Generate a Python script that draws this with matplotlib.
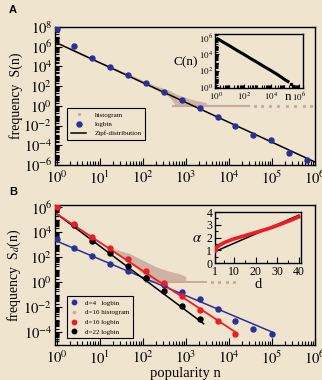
import numpy as np
import matplotlib
matplotlib.use("Agg")
import matplotlib.pyplot as plt
from matplotlib.ticker import LogLocator, FixedLocator, NullFormatter, FuncFormatter
from matplotlib.lines import Line2D

plt.rcParams['font.family'] = ['Liberation Serif', 'DejaVu Serif']
plt.rcParams['mathtext.fontset'] = 'stix'

BG = '#efe5cf'
BLUE = '#2b2f9a'
RED = '#ee1c24'
HIST = '#c9a99b'

# ---------------- Panel A data ----------------
a_logbin_n = [1, 2.6, 6.8, 17.8, 46, 120, 316, 800, 2100, 5500, 14000, 36000, 95000, 250000, 660000]
a_logbin_S = [6.7e7, 1.1e6, 7.2e4, 9.3e3, 1.4e3, 2.0e2, 2.8e1, 4.3, 0.6, 8.3e-2, 9.3e-3, 1.2e-3, 3.2e-4, 1.7e-5, 3.3e-6]
a_zipf_n = [1, 1e6]
a_zipf_S = [2.5e6, 2.0e-6]
# histogram band (upper / lower envelope) and the count=1 floor
a_hist_n = [2, 5, 10, 30, 100, 200, 400, 600, 900, 1500, 3000]
a_hist_hi = [1.0e6, 1.3e5, 3.2e4, 4.0e3, 4.0e2, 1.1e2, 40, 16, 8, 4, 2.2]
a_hist_lo = [5.0e5, 8.0e4, 2.0e4, 2.2e3, 1.9e2, 45, 9, 1, 1, 1, 1]
a_floor_n = [500, 30000]
a_floor_S = [1, 1]
a_sparse_n = [4e4, 6e4, 9e4, 1.4e5, 2.2e5, 3.5e5, 5.5e5, 8e5]
a_sparse_S = [1, 1, 1, 1, 1, 1, 1, 1]

# inset A: C(n)
c_n = [1, 3, 10, 30, 100, 300, 1e3, 3e3, 1e4, 3e4, 1e5, 2e5]
c_C = [1e6, 3.2e5, 1e5, 3.2e4, 1e4, 3.2e3, 1e3, 3.2e2, 1e2, 32, 8, 4]
c_sparse_n = [2.8e5, 3.8e5, 5.2e5]
c_sparse_C = [2.5, 1.6, 1.1]

# ---------------- Panel B data ----------------
b_n = [1, 2.6, 6.8, 17.8, 46, 120, 316, 800, 2100, 5500, 14000, 36000, 100000]
b_d4 = [2.8e3, 5.9e2, 1.3e2, 31, 8.1, 2.1, 0.62, 0.17, 4.7e-2, 7.4e-3, 8.5e-4, 1.9e-4, 7.4e-5]
b_d16 = [1.0e6, 4.7e4, 4.5e3, 5.2e2, 69, 8.5, 0.93, 8.5e-2, 6.2e-3, 8.5e-4, 7.4e-5]
b_d22 = [1.0e6, 3.9e4, 2.0e3, 2.1e2, 21, 2.3, 0.2, 1.3e-2, 1.1e-3]
b_line4_n = [1, 1e5];    b_line4_S = [2.0e3, 1.1e-4]
b_line16_n = [1, 14000]; b_line16_S = [3.0e5, 1.1e-4]
b_line22_n = [1, 2600];  b_line22_S = [3.0e5, 5.0e-4]
b_hist_n = [20, 50, 100, 200, 400, 700, 1000]
b_hist_hi = [5.0e2, 2.0e2, 60, 18, 8, 5, 3]
b_hist_lo = [3.0e2, 40, 5, 1, 1, 1, 1]
b_floor_n = [120, 3000]
b_floor_S = [1, 1]
b_sparse_n = [4e3, 6e3, 9e3, 1.3e4]
b_sparse_S = [1, 1, 1, 1]

# inset B: alpha vs d
al_d = [1, 2, 3, 4, 5, 6, 8, 10, 12, 14, 16, 18, 20, 22, 24, 26, 28, 30, 32, 34, 36, 38, 40]
al_v = [1.12, 1.25, 1.38, 1.48, 1.57, 1.65, 1.78, 1.9, 2.0, 2.1, 2.2, 2.3, 2.4, 2.5, 2.6, 2.7, 2.82, 2.95, 3.07, 3.2, 3.33, 3.48, 3.62]
al_d1 = [1]; al_v1 = [1.0]
al_fit_d = [1, 40]; al_fit_v = [0.9, 3.75]

fig = plt.figure(figsize=(3.22, 3.80), dpi=100)
fig.patch.set_facecolor(BG)

def logfmt(v, pos):
    e = int(round(np.log10(v)))
    return r'$10^{%d}$' % e

def style_log(ax, ymajor_exps, xmajor_exps, fs=10.5, majlen=5, minlen=3):
    ax.set_xscale('log'); ax.set_yscale('log')
    ax.set_facecolor('none')
    ax.xaxis.set_major_locator(FixedLocator([10.0**e for e in xmajor_exps]))
    ax.yaxis.set_major_locator(FixedLocator([10.0**e for e in ymajor_exps]))
    ax.xaxis.set_minor_locator(LogLocator(base=10, subs=np.arange(2, 10), numticks=50))
    ax.yaxis.set_minor_locator(LogLocator(base=10, subs=np.arange(1, 10), numticks=50))
    ax.xaxis.set_major_formatter(FuncFormatter(logfmt))
    ax.yaxis.set_major_formatter(FuncFormatter(logfmt))
    ax.xaxis.set_minor_formatter(NullFormatter())
    ax.yaxis.set_minor_formatter(NullFormatter())
    ax.tick_params(which='both', direction='in', top=False, right=False, labelsize=fs, width=0.8)
    ax.tick_params(which='major', length=majlen)
    ax.tick_params(which='minor', length=minlen)
    for s in ax.spines.values():
        s.set_linewidth(1.0)

# ---------------- Panel A ----------------
axA = fig.add_axes([55/322, 1-165/380, 260/322, 138/380])
style_log(axA, range(-6, 9, 2), range(0, 7))
axA.fill_between(a_hist_n, a_hist_lo, a_hist_hi, color=HIST, lw=0, alpha=0.85, zorder=1)
axA.plot(a_floor_n, a_floor_S, color=HIST, lw=1.6, zorder=1)
axA.plot(a_sparse_n, a_sparse_S, 's', color=HIST, ms=1.2, zorder=1)
axA.plot(a_zipf_n, a_zipf_S, color='black', lw=1.1, zorder=2)
axA.plot(a_logbin_n, a_logbin_S, 'o', color=BLUE, ms=3.6, zorder=3)
axA.set_xlim(0.92, 1e6)
axA.set_ylim(1e-6, 1e8)
axA.tick_params(axis='y', pad=2)
axA.set_ylabel('frequency  S(n)', fontsize=10)
axA.yaxis.set_label_coords(-0.125, 0.5)
fig.text(13/322, 1-10/380, 'A', fontsize=8, fontweight='bold', family='Liberation Sans', va='center', ha='center')

hA = [Line2D([], [], ls='none', marker='s', ms=1.2, color=HIST, label='histogram'),
      Line2D([], [], ls='none', marker='o', ms=3.6, color=BLUE, label='logbin'),
      Line2D([], [], color='black', lw=1.1, label='Zipf-distribution')]
legA = axA.legend(handles=hA, loc='upper left', bbox_to_anchor=(9/260, (165-105)/138), fontsize=5,
                  frameon=True, fancybox=False, edgecolor='black', facecolor=BG, framealpha=1,
                  handlelength=2.2, borderpad=0.5, labelspacing=0.5, handletextpad=1.2)
legA.get_frame().set_linewidth(0.8)

# inset A
axAi = fig.add_axes([215/322, 1-88/380, 88/322, 54/380])
style_log(axAi, [0, 2, 4, 6], [0, 2, 4, 6], fs=6.5, majlen=3, minlen=2)
axAi.plot(c_n, c_C, color='black', lw=2.2, solid_capstyle='butt')
axAi.plot(c_sparse_n, c_sparse_C, 's', color='black', ms=1.3)
axAi.set_xlim(0.8, 2e6)
axAi.set_ylim(0.8, 3e6)
axAi.tick_params(axis='x', pad=2)
axAi.tick_params(axis='y', pad=1)
fig.text(186/322, 1-62/380, 'C(n)', fontsize=9.5, ha='center', va='center')
fig.text(288/322, 1-97/380, 'n', fontsize=9.5, ha='center', va='center')

# ---------------- Panel B ----------------
axB = fig.add_axes([55/322, 1-345/380, 260/322, 140/380])
style_log(axB, range(-4, 7, 2), range(0, 7))
axB.fill_between(b_hist_n, b_hist_lo, b_hist_hi, color=HIST, lw=0, alpha=0.85, zorder=1)
axB.plot(b_floor_n, b_floor_S, color=HIST, lw=1.4, zorder=1)
axB.plot(b_sparse_n, b_sparse_S, 's', color=HIST, ms=1.2, zorder=1)
axB.plot(b_line4_n, b_line4_S, color=BLUE, lw=1.1, zorder=2)
axB.plot(b_line22_n, b_line22_S, color='black', lw=1.1, zorder=2)
axB.plot(b_line16_n, b_line16_S, color=RED, lw=1.3, zorder=2)
axB.plot(b_n, b_d4, 'o', color=BLUE, ms=3.6, zorder=3)
axB.plot(b_n[:len(b_d22)], b_d22, 'o', color='black', ms=3.6, zorder=3)
axB.plot(b_n[:len(b_d16)], b_d16, 'o', color=RED, ms=3.6, zorder=4)
axB.set_xlim(0.92, 1e6)
axB.set_ylim(1e-5, 1.5e6)
axB.tick_params(axis='y', pad=2)
axB.set_ylabel(r'frequency  S$_{d}$(n)', fontsize=10)
axB.yaxis.set_label_coords(-0.125, 0.5)
axB.set_xlabel('popularity n', fontsize=10.5, labelpad=0)
fig.text(13/322, 1-192/380, 'B', fontsize=8, fontweight='bold', family='Liberation Sans', va='center', ha='center')

hB = [Line2D([], [], ls='none', marker='o', ms=3.2, color=BLUE, label='d=4   logbin'),
      Line2D([], [], ls='none', marker='s', ms=1.4, color=HIST, label='d=16 histogram'),
      Line2D([], [], ls='none', marker='o', ms=3.2, color=RED, label='d=16 logbin'),
      Line2D([], [], ls='none', marker='o', ms=3.2, color='black', label='d=22 logbin')]
legB = axB.legend(handles=hB, loc='upper left', bbox_to_anchor=(9/260, (345-293)/140), fontsize=5,
                  frameon=True, fancybox=False, edgecolor='black', facecolor=BG, framealpha=1,
                  handlelength=1.0, borderpad=0.5, labelspacing=0.55, handletextpad=1.0)
legB.get_frame().set_linewidth(0.8)

# inset B
axBi = fig.add_axes([215/322, 1-263/380, 86/322, 51/380])
axBi.set_facecolor('none')
axBi.plot(al_fit_d, al_fit_v, color='black', lw=1.1, zorder=2)
axBi.plot(al_d, al_v, color=RED, lw=2.6, zorder=3)
axBi.plot(al_d1, al_v1, 'o', color=RED, ms=2.5, zorder=3)
axBi.set_xlim(1, 41)
axBi.set_ylim(0, 4)
axBi.set_xticks([1, 10, 20, 30, 40])
axBi.set_xticks([5, 15, 25, 35], minor=True)
axBi.set_yticks([0, 1, 2, 3, 4])
axBi.set_yticks([0.5, 1.5, 2.5, 3.5], minor=True)
axBi.tick_params(which='both', direction='in', top=False, right=False, labelsize=8.5, width=0.8, pad=2)
axBi.tick_params(which='major', length=4)
axBi.tick_params(which='minor', length=2.5)
for s in axBi.spines.values():
    s.set_linewidth(1.0)
fig.text(197/322, 1-239/380, r'$\alpha$', fontsize=10.5, ha='center', va='center')
fig.text(258/322, 1-285/380, 'd', fontsize=10.5, ha='center', va='center')

fig.savefig('out.png', dpi=100, facecolor=BG)
